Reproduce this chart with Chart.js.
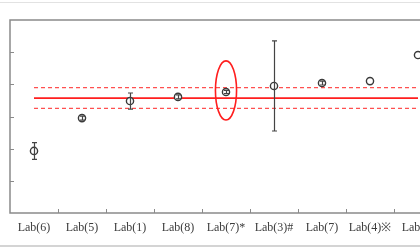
<!DOCTYPE html>
<html>
<head>
<meta charset="utf-8">
<script src="https://cdn.jsdelivr.net/npm/chart.js@4/dist/chart.umd.min.js"></script>
<style>
  html, body { margin: 0; padding: 0; background: #fff; overflow: hidden; }
  #page { position: relative; width: 420px; height: 250px; overflow: hidden; }
  #wrap { position: absolute; left: 0; top: 0; width: 450px; height: 250px; }
  .rule { position: absolute; left: 0; width: 420px; background: #d4d4d4; }
</style>
</head>
<body>
<div id="page">
  <div class="rule" style="top:2px;height:1px;background:#e2e2e2"></div>
  <div class="rule" style="top:245px;height:2px"></div>
  <div id="wrap"><canvas id="labChart" width="450" height="250"></canvas></div>
</div>
<script>
// lab results (y labels are cut off, so units are arbitrary)
const labs = ['Lab(6)', 'Lab(5)', 'Lab(1)', 'Lab(8)', 'Lab(7)*', 'Lab(3)#', 'Lab(7)', 'Lab(4)※', 'Lab(2)'];
const means = [19.3, 29.5, 34.8, 36.1, 37.6, 39.5, 40.4, 41.0, 49.1];
const errs = [2.6, 0.6, 2.5, 0.6, 0.5, 14.0, 0.6, 0, 0];
const refValue = 35.7;
const refUpper = 39.0;
const refLower = 32.5;
const yMin = 0, yMax = 60, yStep = 10;
// the lab circled in red
const markedLab = 'Lab(7)*';
const markedCenter = 38.1;
const markedHalfSpan = 9.2;

const red = 'rgb(255,30,30)';
const lightRed = 'rgb(255,80,80)';
const axisGrey = '#8a8a8a';

const boxAndTicks = {
  id: 'boxAndTicks',
  beforeDatasetsDraw(chart) {
    let ctx = chart.ctx;
    let a = chart.chartArea;
    let x = chart.scales.x;
    let y = chart.scales.y;
    ctx.save();
    ctx.strokeStyle = axisGrey;
    ctx.lineWidth = 1.5;
    ctx.strokeRect(a.left, a.top, a.right - a.left, a.bottom - a.top);
    ctx.lineWidth = 1;
    ctx.beginPath();
    for (let v = yMin + yStep; v < yMax; v += yStep) {
      let py = Math.round(y.getPixelForValue(v)) + 0.5;
      ctx.moveTo(a.left, py);
      ctx.lineTo(a.left + 4, py);
    }
    for (let i = 0; i < labs.length - 1; i++) {
      let px = Math.round(x.getPixelForValue(i + 0.5)) + 0.5;
      ctx.moveTo(px, a.bottom);
      ctx.lineTo(px, a.bottom - 4);
    }
    ctx.stroke();
    ctx.restore();
  },
  afterDatasetsDraw(chart) {
    let ctx = chart.ctx;
    let x = chart.scales.x;
    let y = chart.scales.y;
    ctx.save();
    ctx.strokeStyle = '#444';
    ctx.lineWidth = 1.2;
    ctx.beginPath();
    errs.forEach((e, i) => {
      if (!e) return;
      let px = Math.round(x.getPixelForValue(i)) + 0.5;
      let top = y.getPixelForValue(means[i] + e);
      let bot = y.getPixelForValue(means[i] - e);
      ctx.moveTo(px, top);
      ctx.lineTo(px, bot);
      ctx.moveTo(px - 2.5, top);
      ctx.lineTo(px + 2.5, top);
      ctx.moveTo(px - 2.5, bot);
      ctx.lineTo(px + 2.5, bot);
    });
    ctx.stroke();

    // red ellipse round the marked lab
    let idx = labs.indexOf(markedLab);
    let cx = x.getPixelForValue(idx);
    let cy = y.getPixelForValue(markedCenter);
    let ry = Math.abs(y.getPixelForValue(markedCenter + markedHalfSpan) - cy);
    let rx = Math.abs(x.getPixelForValue(idx + 0.22) - cx);
    ctx.strokeStyle = red;
    ctx.lineWidth = 1.6;
    ctx.beginPath();
    ctx.ellipse(cx, cy, rx, ry, 0, 0, Math.PI * 2);
    ctx.stroke();
    ctx.restore();
  }
};

function refLine(value, dashed) {
  return {
    type: 'line',
    data: labs.map(() => value),
    borderColor: dashed ? lightRed : red,
    borderWidth: dashed ? 1.3 : 1.6,
    borderDash: dashed ? [4, 3] : [],
    pointRadius: 0,
    order: 2
  };
}

let ctx = document.querySelector('#labChart').getContext('2d');
let labChart = new Chart(ctx, {
  type: 'line',
  data: {
    labels: labs,
    datasets: [
      refLine(refValue, false),
      refLine(refUpper, true),
      refLine(refLower, true),
      {
        data: means,
        showLine: false,
        pointRadius: 3.6,
        pointBorderWidth: 1.4,
        pointBorderColor: '#3a3a3a',
        pointBackgroundColor: '#fff',
        order: 1
      }
    ]
  },
  options: {
    responsive: false,
    animation: false,
    layout: { padding: { left: 10, top: 20, right: 8, bottom: 0 } },
    plugins: { legend: { display: false }, tooltip: { enabled: false } },
    scales: {
      x: {
        offset: true,
        grid: { display: false, drawTicks: false },
        border: { display: false },
        ticks: {
          color: '#3c3c3c',
          font: { family: 'Liberation Serif', size: 12 },
          padding: 8,
          maxRotation: 0,
          autoSkip: false
        },
        afterFit(scale) { scale.height = 37; }
      },
      y: {
        min: yMin,
        max: yMax,
        ticks: { display: false, stepSize: yStep },
        grid: { display: false, drawTicks: false },
        border: { display: false },
        afterFit(scale) { scale.width = 0; }
      }
    }
  },
  plugins: [boxAndTicks]
});
</script>
</body>
</html>
